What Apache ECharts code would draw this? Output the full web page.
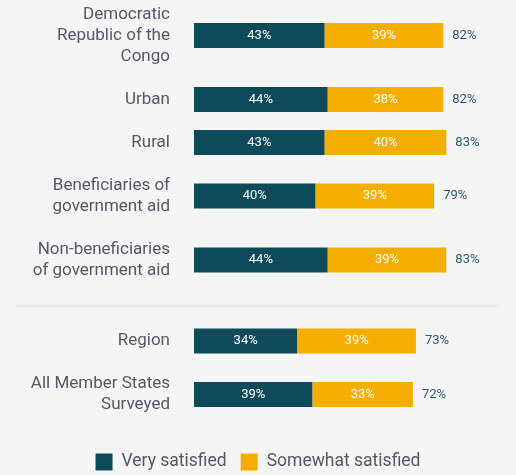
<!DOCTYPE html>
<html>
<head>
<meta charset="utf-8">
<script src="https://cdn.jsdelivr.net/npm/echarts@6/dist/echarts.min.js"></script>
<style>
html,body{margin:0;padding:0;background:#f5f5f5;}
#chart{width:516px;height:475px;}
</style>
</head>
<body>
<div id="chart"></div>
<script>
// ---- data ----
const categories = [
  "Democratic\nRepublic of the\nCongo",
  "Urban",
  "Rural",
  "Beneficiaries of\ngovernment aid",
  "Non-beneficiaries\nof government aid",
  "Region",
  "All Member States\nSurveyed"
];
const verySatisfied     = [43, 44, 43, 40, 44, 34, 39];
const somewhatSatisfied = [39, 38, 40, 39, 39, 39, 33];
const totals            = [82, 82, 83, 79, 83, 73, 72];
const seriesNames = ["Very satisfied", "Somewhat satisfied"];
const separatorAfter = 4; // a divider follows this row

// ---- layout (derived from label line counts) ----
const C_DARK = "#0f4a5a", C_YEL = "#f5ae00", C_TXT = "#545766", C_TOT = "#2a5c6a";
const lineH = 21, gap = 22, sepH = 27.5, barH = 25;
let yCursor = -7;
const centers = [];
let sepY = 0;
categories.forEach((c, i) => {
  const block = c.split("\n").length * lineH + gap;
  centers.push(yCursor + block / 2);
  yCursor += block;
  if (i === separatorAfter) { sepY = yCursor + sepH / 2; yCursor += sepH; }
});

const grids = [], xAxes = [], yAxes = [], series = [];
categories.forEach((c, i) => {
  grids.push({ left: 194, right: 18, top: centers[i] - barH / 2, height: barH, containLabel: false });
  xAxes.push({ type: "value", gridIndex: i, min: 0, max: 100, show: false });
  yAxes.push({
    type: "category", gridIndex: i, data: [c],
    axisLine: { show: false }, axisTick: { show: false }, splitLine: { show: false },
    axisLabel: { margin: 24, fontFamily: "Roboto", fontSize: 17, lineHeight: 21, color: C_TXT }
  });
  const inLabel = { show: true, position: "inside", color: "#ffffff", fontFamily: "Roboto", fontSize: 13, formatter: p => p.value + "%" };
  series.push({
    name: seriesNames[0], type: "bar", stack: "s" + i, xAxisIndex: i, yAxisIndex: i,
    barWidth: barH, data: [verySatisfied[i]], itemStyle: { color: C_DARK }, label: inLabel, silent: true
  });
  series.push({
    name: seriesNames[1], type: "bar", stack: "s" + i, xAxisIndex: i, yAxisIndex: i,
    barWidth: barH, data: [somewhatSatisfied[i]], itemStyle: { color: C_YEL }, label: inLabel, silent: true
  });
  series.push({
    name: "total", type: "bar", stack: "s" + i, xAxisIndex: i, yAxisIndex: i,
    barWidth: barH, data: [0], itemStyle: { color: "transparent" }, silent: true,
    label: { show: true, position: "right", distance: 9, color: C_TOT, fontFamily: "Roboto", fontSize: 13,
             formatter: () => totals[i] + "%" }
  });
});

const chart = echarts.init(document.getElementById("chart"), null, { renderer: "canvas" });
chart.setOption({
  backgroundColor: "#f5f5f5",
  animation: false,
  grid: grids, xAxis: xAxes, yAxis: yAxes, series: series,
  legend: {
    data: seriesNames, top: 450, left: "center", icon: "rect",
    itemWidth: 17, itemHeight: 17, itemGap: 14, padding: [3, 5, 3, 5],
    textStyle: { fontFamily: "Roboto", fontSize: 17.5, color: C_TXT, padding: [0, 0, 0, 4] },
    selectedMode: false
  },
  color: [C_DARK, C_YEL],
  graphic: [{
    type: "line", silent: true,
    shape: { x1: 16, y1: sepY, x2: 499, y2: sepY },
    style: { stroke: "#ebebeb", lineWidth: 3 }
  }]
});
</script>
</body>
</html>
